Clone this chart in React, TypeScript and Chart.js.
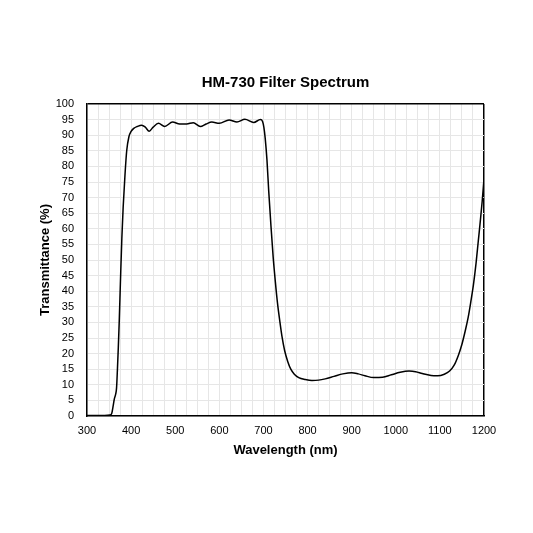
import { useEffect, useRef } from "react";
import { Chart, registerables } from "chart.js";

Chart.register(...registerables);

const FONT = 'Arial, "Liberation Sans", sans-serif';

const chartTitle = "HM-730 Filter Spectrum";
const xAxisTitle = "Wavelength (nm)";
const yAxisTitle = "Transmittance (%)";

const wavelengths = [
  300, 320, 340, 352, 356, 359, 362, 365, 367, 369, 371, 373, 376, 379, 382, 386,
  390, 395, 400, 406, 414, 424, 432, 441, 450, 462, 476, 494, 510, 526, 541, 557,
  570, 583, 600, 622, 640, 658, 678, 693, 698, 701, 704, 708, 712, 717, 722, 727,
  732, 737, 742, 748, 755, 762, 770, 780, 795, 810, 825, 840, 860, 880, 900, 915,
  930, 950, 970, 990, 1010, 1030, 1045, 1060, 1080, 1095, 1110, 1122, 1132, 1142,
  1150, 1157, 1164, 1170, 1176, 1182, 1187, 1192, 1196, 1200,
];

const transmittance = [
  0.2, 0.2, 0.2, 0.3, 0.8, 3.0, 5.5, 7.0, 9.0, 15, 22, 30, 44, 57, 67, 77,
  85, 89.5, 91.2, 92.2, 92.8, 93.2, 92.6, 91.3, 92.6, 93.8, 92.8, 94.2, 93.6, 93.6, 94.0, 92.8,
  93.6, 94.2, 93.8, 94.9, 94.2, 95.1, 94.1, 95.0, 94.4, 92.5, 89, 82, 72, 61, 51, 43,
  36, 30.5, 25.5, 21, 17.5, 15, 13.4, 12.3, 11.7, 11.4, 11.5, 11.9, 12.7, 13.5, 13.9, 13.5,
  12.9, 12.3, 12.4, 13.2, 14.0, 14.4, 14.2, 13.6, 13.0, 12.9, 13.4, 14.4, 16.2, 19.5,
  23, 27, 31.5, 36.5, 42, 49, 56, 63, 69, 76,
];

const xMin = 300;
const xMax = 1200;
const xGridStep = 25;
const xLabelStep = 100;
const yMin = 0;
const yMax = 100;
const yStep = 5;

export default function App() {
  const ref = useRef<HTMLCanvasElement>(null);

  useEffect(() => {
    const canvas = ref.current;
    if (!canvas) return;
    const points = wavelengths.map((w, i) => ({ x: w, y: transmittance[i] }));
    const chart = new Chart(canvas, {
      type: "line",
      data: {
        datasets: [
          {
            data: points,
            borderColor: "#000",
            borderWidth: 1.5,
            pointRadius: 0,
            fill: false,
            cubicInterpolationMode: "monotone",
          },
        ],
      },
      options: {
        animation: false,
        responsive: false,
        layout: { padding: { top: 74, left: 31, right: 49, bottom: 72 } },
        plugins: {
          legend: { display: false },
          tooltip: { enabled: false },
          title: {
            display: true,
            text: chartTitle,
            fullSize: false,
            color: "#000",
            font: { family: FONT, size: 15, weight: "bold" },
            padding: { top: 0, bottom: 12 },
          },
        },
        scales: {
          x: {
            type: "linear",
            min: xMin,
            max: xMax,
            ticks: {
              stepSize: xGridStep,
              autoSkip: false,
              maxRotation: 0,
              padding: 8,
              color: "#000",
              font: { family: FONT, size: 11 },
              callback: (v: any) => (Number(v) % xLabelStep === 0 ? String(v) : ""),
            },
            grid: {
              drawTicks: false,
              color: (ctx: any) => (ctx.tick && ctx.tick.value === xMax ? "#000" : "#e6e6e6"),
              lineWidth: (ctx: any) => (ctx.tick && ctx.tick.value === xMax ? 1.5 : 1),
            },
            border: { display: true, color: "#000", width: 1.5 },
            title: {
              display: true,
              text: xAxisTitle,
              color: "#000",
              font: { family: FONT, size: 13, weight: "bold" },
              padding: { top: 4, bottom: 3 },
            },
            afterFit: (s: any) => {
              s.height = 45;
            },
          },
          y: {
            type: "linear",
            min: yMin,
            max: yMax,
            ticks: {
              stepSize: yStep,
              autoSkip: false,
              padding: 13,
              color: "#000",
              font: { family: FONT, size: 11 },
            },
            grid: {
              drawTicks: false,
              color: (ctx: any) => (ctx.tick && ctx.tick.value === yMax ? "#000" : "#e6e6e6"),
              lineWidth: (ctx: any) => (ctx.tick && ctx.tick.value === yMax ? 1.5 : 1),
            },
            border: { display: true, color: "#000", width: 1.5 },
            title: {
              display: true,
              text: yAxisTitle,
              color: "#000",
              font: { family: FONT, size: 13, weight: "bold" },
              padding: { top: 7, bottom: 4 },
            },
            afterFit: (s: any) => {
              s.width = 56;
            },
          },
        },
      },
    });
    return () => chart.destroy();
  }, []);

  return (
    <div style={{ position: "absolute", left: 0, top: 0, width: 533, height: 533, background: "#fff" }}>
      <canvas ref={ref} width={533} height={533} style={{ width: 533, height: 533, display: "block" }} />
    </div>
  );
}
